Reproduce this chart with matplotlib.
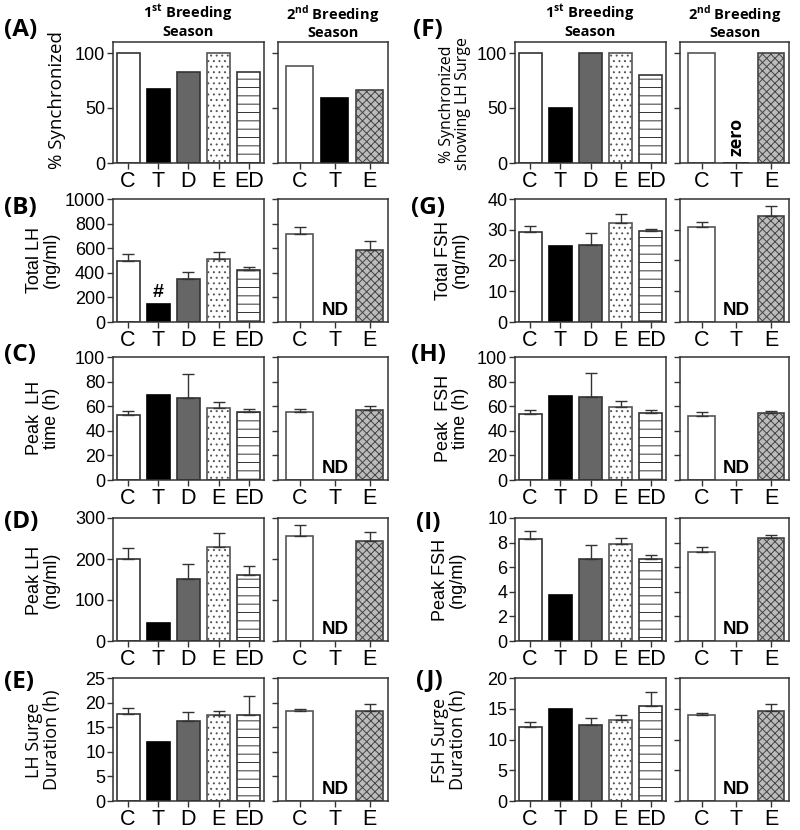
import numpy as np
import matplotlib
matplotlib.use("Agg")
import matplotlib.pyplot as plt

plt.rcParams["font.family"] = ["Liberation Sans", "DejaVu Sans"]
plt.rcParams["hatch.linewidth"] = 0.7
plt.rcParams["mathtext.fontset"] = "custom"
plt.rcParams["mathtext.bf"] = "Open Sans:bold"
plt.rcParams["mathtext.rm"] = "Open Sans:bold"

# ---------------- data ----------------
groups_1st = ["C", "T", "D", "E", "ED"]
groups_2nd = ["C", "T", "E"]
nan = np.nan

# (A) % synchronized
sync_1st = [100, 67, 83, 100, 83]
sync_2nd = [88, 59, 66]
# (B) total LH (ng/ml)
total_lh_1st = [492, 149, 349, 511, 424]
total_lh_1st_err = [57, 0, 56, 57, 22]
total_lh_2nd = [716, nan, 584]
total_lh_2nd_err = [57, 0, 75]
# (C) peak LH time (h)
peak_lh_time_1st = [53.2, 68.9, 67.0, 58.9, 54.9]
peak_lh_time_1st_err = [3.3, 0, 19.2, 4.3, 2.9]
peak_lh_time_2nd = [55.4, nan, 56.8]
peak_lh_time_2nd_err = [2.7, 0, 3.2]
# (D) peak LH (ng/ml)
peak_lh_1st = [200, 43.5, 152, 229, 162]
peak_lh_1st_err = [28, 0, 37, 35, 22]
peak_lh_2nd = [256, nan, 244]
peak_lh_2nd_err = [27, 0, 21]
# (E) LH surge duration (h)
lh_dur_1st = [17.7, 12.0, 16.3, 17.4, 17.5]
lh_dur_1st_err = [1.3, 0, 1.7, 0.8, 3.8]
lh_dur_2nd = [18.2, nan, 18.2]
lh_dur_2nd_err = [0.5, 0, 1.6]

# (F) % synchronized showing LH surge
surge_1st = [100, 50, 100, 100, 80]
surge_2nd = [100, 0, 100]
# (G) total FSH (ng/ml)
total_fsh_1st = [29.3, 24.8, 25.0, 32.1, 29.7]
total_fsh_1st_err = [2.0, 0, 4.1, 2.9, 0.5]
total_fsh_2nd = [30.8, nan, 34.6]
total_fsh_2nd_err = [1.6, 0, 3.1]
# (H) peak FSH time (h)
peak_fsh_time_1st = [53.5, 67.9, 67.4, 59.2, 54.6]
peak_fsh_time_1st_err = [3.3, 0, 19.3, 4.7, 2.7]
peak_fsh_time_2nd = [52.2, nan, 54.1]
peak_fsh_time_2nd_err = [3.0, 0, 2.4]
# (I) peak FSH (ng/ml)
peak_fsh_1st = [8.27, 3.7, 6.68, 7.86, 6.66]
peak_fsh_1st_err = [0.69, 0, 1.16, 0.5, 0.33]
peak_fsh_2nd = [7.2, nan, 8.41]
peak_fsh_2nd_err = [0.42, 0, 0.22]
# (J) FSH surge duration (h)
fsh_dur_1st = [12.0, 15.0, 12.4, 13.1, 15.5]
fsh_dur_1st_err = [0.9, 0, 1.1, 0.9, 2.3]
fsh_dur_2nd = [14.0, nan, 14.7]
fsh_dur_2nd_err = [0.3, 0, 1.0]

# ---------------- styles ----------------
EDGE = "#333333"
style_1st = [
    dict(fc="white", hatch=None, ec=EDGE),
    dict(fc="black", hatch=None, ec="black"),
    dict(fc="#666666", hatch=None, ec=EDGE),
    dict(fc="white", hatch="...", ec="#555555"),
    dict(fc="white", hatch="--", ec=EDGE),
]
style_2nd = [
    dict(fc="white", hatch=None, ec="#555555"),
    dict(fc="black", hatch=None, ec="black"),
    dict(fc="#bbbbbb", hatch="xxxx", ec="#444444"),
]

W, H = 800, 830
fig = plt.figure(figsize=(W / 100, H / 100), dpi=100)


def add_ax(x0, x1, y0, y1):
    return fig.add_axes([x0 / W, 1 - y1 / H, (x1 - x0) / W, (y1 - y0) / H])


def draw_panel(ax, cats, vals, errs, styles, ymax, yticks, first, xlim):
    x = np.arange(len(cats))
    for xi, v, e, st in zip(x, vals, errs, styles):
        if np.isnan(v):
            continue
        ax.bar(xi, v, width=0.76, facecolor=st["fc"], edgecolor=st["ec"],
               hatch=st["hatch"], linewidth=1.2, zorder=2)
        if e:
            ax.errorbar(xi, v, yerr=[[0], [e]], fmt="none", ecolor=EDGE,
                        elinewidth=1.0, capsize=4, capthick=1.0, zorder=3)
    ax.set_xlim(*xlim)
    ax.set_ylim(0, ymax)
    ax.set_xticks(x)
    ax.set_xticklabels(cats, fontsize=15.5)
    ax.set_yticks(yticks)
    if first:
        ax.set_yticklabels([f"{t:g}" for t in yticks], fontsize=13)
    else:
        ax.set_yticklabels([])
    ax.tick_params(axis="both", direction="out", length=4, width=1,
                   color=EDGE, pad=1.5)
    for sp in ax.spines.values():
        sp.set_color(EDGE)
        sp.set_linewidth(1.1)


rows = [(42, 163), (199, 322), (357, 480), (518, 641), (678, 801)]
cols_left = [(113, 264), (278, 388)]
cols_right = [(515, 666), (680, 789)]

left_panels = [
    (sync_1st, [0] * 5, sync_2nd, [0] * 3, 110, [0, 50, 100]),
    (total_lh_1st, total_lh_1st_err, total_lh_2nd, total_lh_2nd_err, 1000, range(0, 1001, 200)),
    (peak_lh_time_1st, peak_lh_time_1st_err, peak_lh_time_2nd, peak_lh_time_2nd_err, 100, range(0, 101, 20)),
    (peak_lh_1st, peak_lh_1st_err, peak_lh_2nd, peak_lh_2nd_err, 300, range(0, 301, 100)),
    (lh_dur_1st, lh_dur_1st_err, lh_dur_2nd, lh_dur_2nd_err, 25, range(0, 26, 5)),
]
right_panels = [
    (surge_1st, [0] * 5, surge_2nd, [0] * 3, 110, [0, 50, 100]),
    (total_fsh_1st, total_fsh_1st_err, total_fsh_2nd, total_fsh_2nd_err, 40, range(0, 41, 10)),
    (peak_fsh_time_1st, peak_fsh_time_1st_err, peak_fsh_time_2nd, peak_fsh_time_2nd_err, 100, range(0, 101, 20)),
    (peak_fsh_1st, peak_fsh_1st_err, peak_fsh_2nd, peak_fsh_2nd_err, 10, range(0, 11, 2)),
    (fsh_dur_1st, fsh_dur_1st_err, fsh_dur_2nd, fsh_dur_2nd_err, 20, range(0, 21, 5)),
]

for cols, panels, side in [(cols_left, left_panels, "L"), (cols_right, right_panels, "R")]:
    for r, ((y0, y1), (v1, e1, v2, e2, ymax, yt)) in enumerate(zip(rows, panels)):
        yt = list(yt)
        ax1 = add_ax(cols[0][0], cols[0][1], y0, y1)
        draw_panel(ax1, groups_1st, v1, e1, style_1st, ymax, yt, True, (-0.5, 4.5))
        ax2 = add_ax(cols[1][0], cols[1][1], y0, y1)
        draw_panel(ax2, groups_2nd, v2, e2, style_2nd, ymax, yt, False, (-0.62, 2.52))
        if r > 0:
            ax2.text(1, ymax * 0.025, "ND", ha="center", va="bottom",
                     fontsize=13.5, fontweight="bold")
        if side == "R" and r == 0:
            ax2.text(1, ymax * 0.06, "zero", ha="center", va="bottom",
                     rotation=90, fontsize=13, fontweight="bold",
                     family="Open Sans")
        if side == "L" and r == 1:
            ax1.text(1, v1[1] + ymax * 0.02, "#", ha="center", va="bottom",
                     fontsize=14, fontweight="bold")

# ---------------- titles ----------------
title_kw = dict(ha="center", va="top", fontsize=10.5, fontweight="bold",
                family="Open Sans", linespacing=1.1)
fig.text(188 / W, 1 - 3 / H, "1$^{\\mathbf{st}}$ Breeding\nSeason", **title_kw)
fig.text(333 / W, 1 - 3 / H, "2$^{\\mathbf{nd}}$ Breeding\nSeason", **title_kw)
fig.text(590 / W, 1 - 3 / H, "1$^{\\mathbf{st}}$ Breeding\nSeason", **title_kw)
fig.text(735 / W, 1 - 3 / H, "2$^{\\mathbf{nd}}$ Breeding\nSeason", **title_kw)

# ---------------- panel letters ----------------
letters = [
    ("(A)", 4, 30), ("(B)", 4, 208), ("(C)", 4, 355), ("(D)", 4, 522), ("(E)", 4, 682),
    ("(F)", 413, 30), ("(G)", 411, 208), ("(H)", 411, 355), ("(I)", 416, 523), ("(J)", 416, 680),
]
for txt, x, y in letters:
    fig.text(x / W, 1 - y / H, txt, ha="left", va="center", fontsize=17.5,
             fontweight="bold", family="Open Sans")

# ---------------- y labels ----------------
ylabels = [
    ("% Synchronized", 57, 100, "Open Sans", 13.5),
    ("Total LH\n(ng/ml)", 43, 260, "Liberation Sans", 13),
    ("Peak  LH\ntime (h)", 43, 418, "Liberation Sans", 13),
    ("Peak LH\n(ng/ml)", 43, 580, "Liberation Sans", 13),
    ("LH Surge\nDuration (h)", 43, 740, "Open Sans", 13),
    ("% Synchronized\nshowing LH Surge", 455, 104, "Open Sans", 11.5),
    ("Total FSH\n(ng/ml)", 452, 260, "Liberation Sans", 13),
    ("Peak  FSH\ntime (h)", 452, 418, "Liberation Sans", 13),
    ("Peak FSH\n(ng/ml)", 449, 580, "Liberation Sans", 13),
    ("FSH Surge\nDuration (h)", 449, 740, "Open Sans", 13),
]
for txt, x, y, fam, fs in ylabels:
    fig.text(x / W, 1 - y / H, txt, ha="center", va="center", rotation=90,
             fontsize=fs, family=fam, multialignment="center", linespacing=1.05)

fig.savefig("out.png", dpi=100)
